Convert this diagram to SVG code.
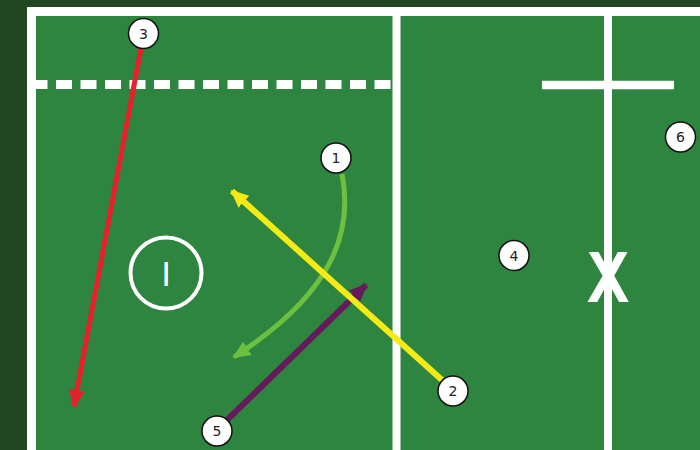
<svg xmlns="http://www.w3.org/2000/svg" width="700" height="450" viewBox="0 0 700 450">
<defs>
<style>
.fl{stroke:#ffffff;stroke-width:8;fill:none}
.node circle{fill:#ffffff;stroke:#111111;stroke-width:1.5}
.node text{font-family:"DejaVu Sans",sans-serif;font-size:14px;fill:#222222;text-anchor:middle;dominant-baseline:central}
.mark{font-family:"Liberation Sans",Arial,sans-serif;fill:#ffffff;text-anchor:middle}
.c{fill:none;stroke-linecap:butt}
</style>
<marker id="aR" markerUnits="userSpaceOnUse" markerWidth="18" markerHeight="16" viewBox="0 0 18 16" refX="16" refY="8" orient="auto"><path d="M0,0 L18,8 L0,16 Z" fill="#e8202a"/></marker>
<marker id="aY" markerUnits="userSpaceOnUse" markerWidth="18" markerHeight="16" viewBox="0 0 18 16" refX="16" refY="8" orient="auto"><path d="M0,0 L18,8 L0,16 Z" fill="#f4ea16"/></marker>
<marker id="aG" markerUnits="userSpaceOnUse" markerWidth="18" markerHeight="16" viewBox="0 0 18 16" refX="16" refY="8" orient="auto"><path d="M0,0 L18,8 L0,16 Z" fill="#6cc040"/></marker>
<marker id="aP" markerUnits="userSpaceOnUse" markerWidth="18" markerHeight="16" viewBox="0 0 18 16" refX="16" refY="8" orient="auto"><path d="M0,0 L18,8 L0,16 Z" fill="#651a5c"/></marker>
</defs>
<rect x="0" y="0" width="700" height="450" fill="#1f4620"/>
<g id="field">
<rect x="31.5" y="11.5" width="700" height="460" fill="#2e8540" stroke="#ffffff" stroke-width="9"/>
<line x1="31.5" y1="84.5" x2="390.5" y2="84.5" stroke="#ffffff" stroke-width="9" stroke-dasharray="16 8.5"/>
<line class="fl" x1="396.5" y1="16" x2="396.5" y2="450"/>
<line class="fl" x1="608" y1="16" x2="608" y2="450"/>
<line x1="542" y1="85" x2="674" y2="85" stroke="#ffffff" stroke-width="8.5"/>
<circle cx="166" cy="273" r="35.5" fill="none" stroke="#ffffff" stroke-width="4"/>
<text class="mark" x="166" y="286" font-size="35">I</text>
<text class="mark" transform="translate(608 302) scale(0.88 1)" x="0" y="0" font-size="72" font-weight="bold">X</text>
</g>
<g id="connectors">
<line class="c" x1="141" y1="48" x2="74" y2="406" stroke="#e8202a" stroke-width="5" marker-end="url(#aR)"/>
<path class="c" d="M342,174 C353,230 335,292 234,357" stroke="#6cc040" stroke-width="5" marker-end="url(#aG)"/>
<line class="c" x1="226" y1="421" x2="366" y2="285" stroke="#651a5c" stroke-width="6" marker-end="url(#aP)"/>
<line class="c" x1="442" y1="380" x2="232" y2="191" stroke="#f4ea16" stroke-width="6" marker-end="url(#aY)"/>
</g>
<g id="n3" class="node"><circle cx="143.5" cy="33.5" r="15"/><text x="143.5" y="33.5">3</text></g>
<g id="n6" class="node"><circle cx="680.5" cy="137" r="15"/><text x="680.5" y="137">6</text></g>
<g id="n1" class="node"><circle cx="336" cy="158" r="15"/><text x="336" y="158">1</text></g>
<g id="n4" class="node"><circle cx="514" cy="255.5" r="15"/><text x="514" y="255.5">4</text></g>
<g id="n2" class="node"><circle cx="453" cy="391" r="15"/><text x="453" y="391">2</text></g>
<g id="n5" class="node"><circle cx="217" cy="431" r="15"/><text x="217" y="431">5</text></g>
</svg>
